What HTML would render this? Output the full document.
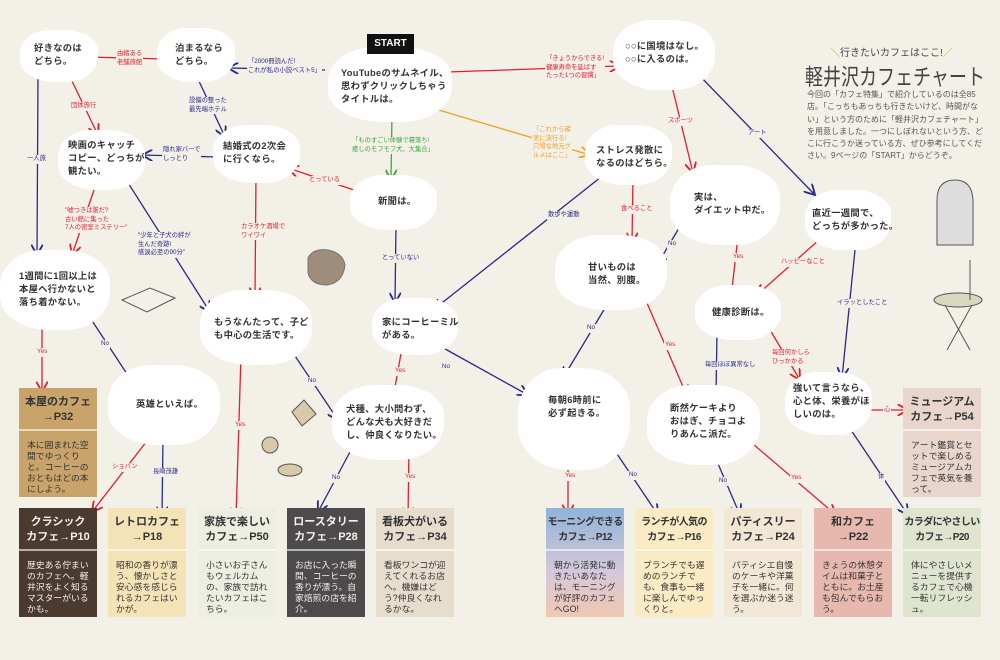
<!DOCTYPE html>
<html><head><meta charset="utf-8"><style>
*{margin:0;padding:0;box-sizing:border-box}
body{width:1000px;height:660px;background:#f3f0e8;position:relative;overflow:hidden;font-family:"Liberation Sans","Noto Sans CJK JP",sans-serif;color:#333}
.b{position:absolute;background:#fff;border-radius:38% 42% 40% 45%/45% 40% 48% 42%;font-size:9.3px;line-height:13px;font-weight:bold;color:#333;letter-spacing:.3px}
.b span{position:absolute;white-space:nowrap}
.l{position:absolute;font-size:6.3px;line-height:8.5px;background:#f3f0e8;white-space:nowrap;padding:0 1px}
.r{color:#e0202e}.u{color:#2a2a8a}.g{color:#3aa83a}.o{color:#f0a020}
.c{position:absolute;width:78px;height:109px;overflow:hidden}
.c .h{height:43px;font-size:11px;line-height:15px;font-weight:bold;text-align:center;padding-top:7px;border-bottom:2px solid rgba(255,255,255,.6);white-space:nowrap}
.c .h.s{font-size:10px;letter-spacing:-.6px}
.c .t{font-size:8.8px;line-height:11px;padding:9px 6px 0 8px}
.w{color:#f4f0ea}
</style></head><body>
<svg width="1000" height="660" style="position:absolute;left:0;top:0">
<defs>
<marker id="mu" viewBox="0 0 10 10" refX="9" refY="5" markerWidth="9" markerHeight="9" orient="auto"><path d="M0,0 L9,5 L0,10" fill="none" stroke="#2a2a8a" stroke-width="1.6"/></marker>
<marker id="mr" viewBox="0 0 10 10" refX="9" refY="5" markerWidth="9" markerHeight="9" orient="auto"><path d="M0,0 L9,5 L0,10" fill="none" stroke="#e0202e" stroke-width="1.6"/></marker>
<marker id="mg" viewBox="0 0 10 10" refX="9" refY="5" markerWidth="9" markerHeight="9" orient="auto"><path d="M0,0 L9,5 L0,10" fill="none" stroke="#3aa83a" stroke-width="1.6"/></marker>
<marker id="mo" viewBox="0 0 10 10" refX="9" refY="5" markerWidth="9" markerHeight="9" orient="auto"><path d="M0,0 L9,5 L0,10" fill="none" stroke="#f0a020" stroke-width="1.6"/></marker>
</defs>
<g fill="none" stroke-width="1.3">
<g stroke="#2a2a8a" marker-end="url(#mu)">
<line x1="325" y1="70" x2="228" y2="68"/>
<line x1="38" y1="75" x2="37" y2="255"/>
<line x1="198" y1="79" x2="225" y2="137"/>
<line x1="218" y1="157" x2="142" y2="155"/>
<line x1="396" y1="224" x2="395" y2="303"/>
<line x1="125" y1="178" x2="210" y2="312"/>
<line x1="85" y1="310" x2="133" y2="383"/>
<line x1="289" y1="347" x2="338" y2="420"/>
<line x1="438" y1="345" x2="528" y2="395"/>
<line x1="163" y1="437" x2="162" y2="517"/>
<line x1="351" y1="450" x2="318" y2="512"/>
<line x1="697" y1="73" x2="815" y2="195"/>
<line x1="601" y1="177" x2="433" y2="310"/>
<line x1="682" y1="223" x2="657" y2="265"/>
<line x1="856" y1="240" x2="842" y2="378"/>
<line x1="605" y1="308" x2="563" y2="378"/>
<line x1="717" y1="330" x2="716" y2="397"/>
<line x1="849" y1="427" x2="908" y2="515"/>
<line x1="603" y1="433" x2="658" y2="515"/>
<line x1="713" y1="452" x2="740" y2="515"/>
</g>
<g stroke="#e0202e" marker-end="url(#mr)">
<line x1="165" y1="59" x2="87" y2="57"/>
<line x1="70" y1="77" x2="98" y2="135"/>
<line x1="360" y1="192" x2="288" y2="168"/>
<line x1="95" y1="187" x2="72" y2="255"/>
<line x1="256" y1="173" x2="255" y2="298"/>
<line x1="447" y1="72" x2="620" y2="66"/>
<line x1="42" y1="320" x2="42" y2="392"/>
<line x1="241" y1="355" x2="236" y2="518"/>
<line x1="402" y1="348" x2="393" y2="398"/>
<line x1="150" y1="437" x2="92" y2="512"/>
<line x1="409" y1="447" x2="408" y2="518"/>
<line x1="671" y1="82" x2="693" y2="173"/>
<line x1="633" y1="177" x2="632" y2="243"/>
<line x1="739" y1="227" x2="731" y2="298"/>
<line x1="820" y1="239" x2="757" y2="295"/>
<line x1="644" y1="296" x2="687" y2="396"/>
<line x1="770" y1="330" x2="800" y2="380"/>
<line x1="867" y1="410" x2="908" y2="410"/>
<line x1="568" y1="437" x2="568" y2="515"/>
<line x1="746" y1="438" x2="836" y2="515"/>
</g>
<line x1="392" y1="113" x2="391" y2="180" stroke="#3aa83a" marker-end="url(#mg)"/>
<line x1="432" y1="108" x2="590" y2="155" stroke="#f0a020" marker-end="url(#mo)"/>
</g>
<g stroke="#555" stroke-width="1" fill="none">
<path d="M308,258 q5,-10 20,-8 q15,3 17,15 q-2,18 -18,20 q-16,0 -19,-12 z" fill="#8a7560" opacity=".8"/>
<path d="M122,300 l28,-12 l25,10 l-28,14 z"/>
<path d="M955,180 q17,0 18,20 v45 h-36 v-45 q0,-20 18,-20 z" fill="#ddd"/>
<ellipse cx="958" cy="300" rx="24" ry="7" fill="#d8d8c0"/>
<path d="M945,305 l25,45 M972,305 l-25,45 M970,260 v40"/>
<circle cx="270" cy="445" r="8" fill="#d9c9a8"/>
<path d="M292,412 l12,-12 l12,14 l-14,12 z" fill="#d9c9a8"/>
<ellipse cx="290" cy="470" rx="12" ry="6" fill="#d9c9a8"/>
</g>
</svg>

<div class="b" style="left:20px;top:30px;width:78px;height:52px"><span style="left:14px;top:12px">好きなのは<br>どちら。</span></div>
<div class="b" style="left:157px;top:28px;width:78px;height:54px"><span style="left:18px;top:14px">泊まるなら<br>どちら。</span></div>
<div class="b" style="left:328px;top:47px;width:124px;height:75px"><span style="left:13px;top:20px">YouTubeのサムネイル、<br>思わずクリックしちゃう<br>タイトルは。</span></div>
<div class="b" style="left:58px;top:130px;width:87px;height:60px"><span style="left:10px;top:9px">映画のキャッチ<br>コピー、どっちが<br>観たい。</span></div>
<div class="b" style="left:213px;top:125px;width:87px;height:58px"><span style="left:10px;top:15px">結婚式の2次会<br>に行くなら。</span></div>
<div class="b" style="left:350px;top:175px;width:87px;height:55px"><span style="left:28px;top:20px">新聞は。</span></div>
<div class="b" style="left:0px;top:250px;width:110px;height:80px"><span style="left:19px;top:20px">1週間に1回以上は<br>本屋へ行かないと<br>落ち着かない。</span></div>
<div class="b" style="left:200px;top:290px;width:112px;height:75px"><span style="left:14px;top:26px">もうなんたって、子ど<br>も中心の生活です。</span></div>
<div class="b" style="left:372px;top:298px;width:86px;height:57px"><span style="left:10px;top:18px">家にコーヒーミル<br>がある。</span></div>
<div class="b" style="left:108px;top:365px;width:112px;height:80px"><span style="left:28px;top:33px">英雄といえば。</span></div>
<div class="b" style="left:332px;top:385px;width:112px;height:75px"><span style="left:14px;top:18px">犬種、大小問わず、<br>どんな犬も大好きだ<br>し、仲良くなりたい。</span></div>
<div class="b" style="left:613px;top:20px;width:102px;height:70px"><span style="left:12px;top:20px">○○に国境はなし。<br>○○に入るのは。</span></div>
<div class="b" style="left:585px;top:125px;width:87px;height:60px"><span style="left:11px;top:19px">ストレス発散に<br>なるのはどちら。</span></div>
<div class="b" style="left:670px;top:165px;width:110px;height:80px"><span style="left:24px;top:26px">実は、<br>ダイエット中だ。</span></div>
<div class="b" style="left:555px;top:235px;width:112px;height:75px"><span style="left:33px;top:26px">甘いものは<br>当然、別腹。</span></div>
<div class="b" style="left:805px;top:190px;width:86px;height:60px"><span style="left:7px;top:17px">直近一週間で、<br>どっちが多かった。</span></div>
<div class="b" style="left:695px;top:285px;width:86px;height:55px"><span style="left:17px;top:21px">健康診断は。</span></div>
<div class="b" style="left:518px;top:368px;width:112px;height:102px"><span style="left:30px;top:26px">毎朝6時前に<br>必ず起きる。</span></div>
<div class="b" style="left:647px;top:385px;width:113px;height:80px"><span style="left:23px;top:17px">断然ケーキより<br>おはぎ、チョコよ<br>りあんこ派だ。</span></div>
<div class="b" style="left:785px;top:372px;width:87px;height:63px"><span style="left:8px;top:10px">強いて言うなら、<br>心と体、栄養がほ<br>しいのは。</span></div>

<div style="position:absolute;left:367px;top:34px;width:47px;height:20px;background:#111;color:#fff;font-weight:bold;font-size:10px;line-height:20px;text-align:center">START</div>

<div class="l u" style="left:247px;top:58px">「2000冊読んだ!<br>これが私の小説ベスト5」</div>
<div class="l r" style="left:116px;top:50px">由緒ある<br>老舗旅館</div>
<div class="l r" style="left:70px;top:102px">団体旅行</div>
<div class="l u" style="left:26px;top:155px">一人旅</div>
<div class="l u" style="left:188px;top:97px">設備の整った<br>最先端ホテル</div>
<div class="l u" style="left:162px;top:146px">隠れ家バーで<br>しっとり</div>
<div class="l g" style="left:351px;top:137px">「ものすごい体験で寝落ち!<br>癒しのモフモフ犬、大集合」</div>
<div class="l r" style="left:308px;top:176px">とっている</div>
<div class="l u" style="left:381px;top:254px">とっていない</div>
<div class="l r" style="left:64px;top:207px">"嘘つきは誰だ?<br>古い館に集った<br>7人の密室ミステリー"</div>
<div class="l u" style="left:137px;top:232px">"少年と子犬の絆が<br>生んだ奇跡!<br>感涙必至の90分"</div>
<div class="l r" style="left:240px;top:223px">カラオケ酒場で<br>ワイワイ</div>
<div class="l r" style="left:545px;top:55px">「きょうからできる!<br>健康寿命を延ばす<br>たった1つの習慣」</div>
<div class="l o" style="left:532px;top:126px">「これから確<br>実に流行る!<br>穴場な地元グ<br>ルメはここ」</div>
<div class="l r" style="left:36px;top:348px">Yes</div>
<div class="l u" style="left:100px;top:340px">No</div>
<div class="l u" style="left:307px;top:377px">No</div>
<div class="l r" style="left:234px;top:421px">Yes</div>
<div class="l r" style="left:394px;top:367px">Yes</div>
<div class="l u" style="left:441px;top:363px">No</div>
<div class="l r" style="left:111px;top:463px">ショパン</div>
<div class="l u" style="left:152px;top:468px">長崎茂雄</div>
<div class="l u" style="left:331px;top:474px">No</div>
<div class="l r" style="left:404px;top:473px">Yes</div>
<div class="l r" style="left:667px;top:117px">スポーツ</div>
<div class="l u" style="left:747px;top:129px">アート</div>
<div class="l r" style="left:620px;top:205px">食べること</div>
<div class="l u" style="left:547px;top:211px">散歩や運動</div>
<div class="l u" style="left:667px;top:240px">No</div>
<div class="l r" style="left:732px;top:253px">Yes</div>
<div class="l r" style="left:780px;top:258px">ハッピーなこと</div>
<div class="l u" style="left:836px;top:299px">イラッとしたこと</div>
<div class="l u" style="left:586px;top:324px">No</div>
<div class="l r" style="left:664px;top:341px">Yes</div>
<div class="l u" style="left:704px;top:361px">毎回ほぼ異常なし</div>
<div class="l r" style="left:771px;top:349px">毎回何かしら<br>ひっかかる</div>
<div class="l r" style="left:883px;top:406px">心</div>
<div class="l u" style="left:877px;top:473px">体</div>
<div class="l r" style="left:564px;top:472px">Yes</div>
<div class="l u" style="left:628px;top:471px">No</div>
<div class="l u" style="left:718px;top:477px">No</div>
<div class="l r" style="left:790px;top:474px">Yes</div>

<div class="c" style="left:19px;top:388px;background:#c9a46a"><div class="h">本屋のカフェ<br>→P32</div><div class="t">本に囲まれた空間でゆっくりと。コーヒーのおともはどの本にしよう。</div></div>
<div class="c w" style="left:19px;top:508px;background:#4a3a30"><div class="h">クラシック<br>カフェ→P10</div><div class="t">歴史ある佇まいのカフェへ。軽井沢をよく知るマスターがいるかも。</div></div>
<div class="c" style="left:108px;top:508px;background:#f5e3b8"><div class="h">レトロカフェ<br>→P18</div><div class="t">昭和の香りが漂う、懐かしさと安心感を感じられるカフェはいかが。</div></div>
<div class="c" style="left:198px;top:508px;background:#eceee2"><div class="h">家族で楽しい<br>カフェ→P50</div><div class="t">小さいお子さんもウェルカムの、家族で訪れたいカフェはこちら。</div></div>
<div class="c w" style="left:287px;top:508px;background:#4c4a4a"><div class="h">ロースタリー<br>カフェ→P28</div><div class="t">お店に入った瞬間、コーヒーの香りが漂う。自家焙煎の店を紹介。</div></div>
<div class="c" style="left:376px;top:508px;background:#e6ddcc"><div class="h">看板犬がいる<br>カフェ→P34</div><div class="t">看板ワンコが迎えてくれるお店へ。機嫌はどう?仲良くなれるかな。</div></div>
<div class="c" style="left:546px;top:508px;background:linear-gradient(#8fb3d8,#d6c8da 60%,#f0c8b0)"><div class="h s">モーニングできる<br>カフェ→P12</div><div class="t">朝から活発に動きたいあなたは、モーニングが好評のカフェへGO!</div></div>
<div class="c" style="left:635px;top:508px;background:#faebc4"><div class="h s">ランチが人気の<br>カフェ→P16</div><div class="t">ブランチでも遅めのランチでも、食事も一緒に楽しんでゆっくりと。</div></div>
<div class="c" style="left:724px;top:508px;background:#f2e6d4"><div class="h">パティスリー<br>カフェ→P24</div><div class="t">パティシエ自慢のケーキや洋菓子を一緒に。何を選ぶか迷う迷う。</div></div>
<div class="c" style="left:814px;top:508px;background:#e6b8ae"><div class="h">和カフェ<br>→P22</div><div class="t">きょうの休憩タイムは和菓子とともに。お土産も包んでもらおう。</div></div>
<div class="c" style="left:903px;top:508px;background:#dfe4cf"><div class="h s">カラダにやさしい<br>カフェ→P20</div><div class="t">体にやさしいメニューを提供するカフェで心機一転リフレッシュ。</div></div>
<div class="c" style="left:903px;top:388px;background:#e8d6cc"><div class="h">ミュージアム<br>カフェ→P54</div><div class="t">アート鑑賞とセットで楽しめるミュージアムカフェで英気を養って。</div></div>

<div style="position:absolute;left:830px;top:44px;font-size:10px;color:#444;white-space:nowrap"><span style="color:#e0a020">＼</span>行きたいカフェはここ!<span style="color:#e0a020">／</span></div>
<div style="position:absolute;left:805px;top:60px;font-size:18px;letter-spacing:0;color:#444;white-space:nowrap;transform:scaleY(1.25);transform-origin:left top">軽井沢カフェチャート</div>
<div style="position:absolute;left:807px;top:89px;width:178px;font-size:8px;line-height:12.3px;color:#555">今回の「カフェ特集」で紹介しているのは全85店。「こっちもあっちも行きたいけど、時間がない」という方のために「軽井沢カフェチャート」を用意しました。一つにしぼれないという方、どこに行こうか迷っている方、ぜひ参考にしてください。9ページの「START」からどうぞ。</div>
</body></html>
